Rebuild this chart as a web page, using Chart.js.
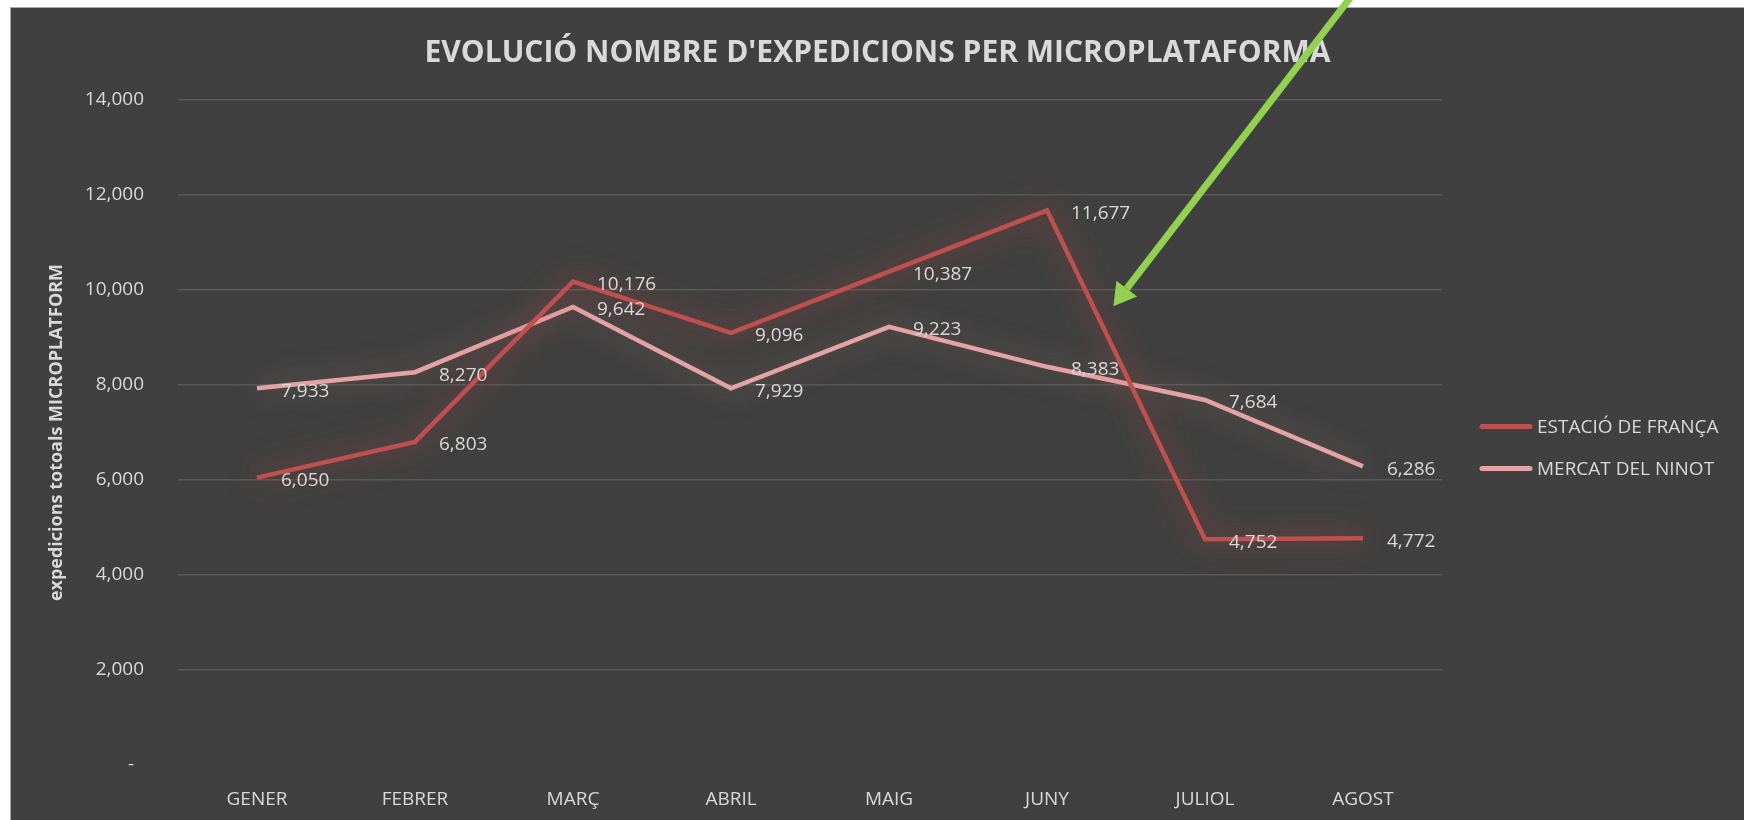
<!DOCTYPE html>
<html>
<head>
<meta charset="utf-8">
<script src="https://cdn.jsdelivr.net/npm/chart.js@4.4.1/dist/chart.umd.min.js"></script>
<style>
    body { margin: 0; background: #ffffff; }
    canvas { display: block; }
</style>
</head>
<body>
<canvas id="grafico-expediciones" width="1744" height="820"></canvas>
<script>
var meses = ['GENER', 'FEBRER', 'MARÇ', 'ABRIL', 'MAIG', 'JUNY', 'JULIOL', 'AGOST'];
var nombres = ['ESTACIÓ DE FRANÇA', 'MERCAT DEL NINOT'];
var estacioFranca = [6050, 6803, 10176, 9096, 10387, 11677, 4752, 4772];
var mercatNinot = [7933, 8270, 9642, 7929, 9223, 8383, 7684, 6286];
var ejeY = { min: 0, max: 14000, paso: 2000 };
// punta de la flecha verde (en unidades de los ejes)
var flecha = { mes: 5.42, valor: 9660 };

var colores = ['#c0504d', '#e6a3a3'];
var brillos = ['rgba(210, 70, 70, 0.75)', 'rgba(225, 150, 150, 0.4)'];
var gris = '#d9d9d9';

var fondo = {
    id: 'fondo',
    beforeDraw: function (chart) {
        var ctx = chart.ctx;
        ctx.save();
        ctx.fillStyle = '#ffffff';
        ctx.fillRect(0, 0, chart.width, chart.height);
        ctx.fillStyle = '#a9a9a9';
        ctx.fillRect(10, 7, chart.width, chart.height);
        ctx.fillStyle = '#404040';
        ctx.fillRect(11, 8, chart.width, chart.height);
        ctx.restore();
    }
};

var brillo = {
    id: 'brillo',
    beforeDatasetDraw: function (chart, args) {
        var ctx = chart.ctx;
        ctx.save();
        ctx.shadowColor = brillos[args.index];
        ctx.shadowBlur = 30;
    },
    afterDatasetDraw: function (chart) {
        chart.ctx.restore();
    }
};

var etiquetas = {
    id: 'etiquetas',
    afterDatasetsDraw: function (chart) {
        var ctx = chart.ctx;
        ctx.save();
        ctx.font = '19px "Open Sans"';
        ctx.fillStyle = gris;
        ctx.textAlign = 'left';
        ctx.textBaseline = 'middle';
        chart.data.datasets.forEach(function (ds, i) {
            chart.getDatasetMeta(i).data.forEach(function (pt, j) {
                ctx.fillText(ds.data[j].toLocaleString('en-US'), pt.x + 24, pt.y + 3);
            });
        });
        ctx.restore();
    }
};

var leyenda = {
    id: 'leyenda',
    afterDraw: function (chart) {
        var a = chart.chartArea, ctx = chart.ctx;
        var x0 = a.right + 38;
        var yc = (a.top + a.bottom) / 2 + 15;
        ctx.save();
        ctx.font = '19px "Open Sans"';
        ctx.textBaseline = 'middle';
        ctx.textAlign = 'left';
        chart.data.datasets.forEach(function (ds, i) {
            var y = yc + (i - 0.5) * 42;
            ctx.strokeStyle = ds.borderColor;
            ctx.lineWidth = 5;
            ctx.lineCap = 'round';
            ctx.beginPath();
            ctx.moveTo(x0 + 2, y);
            ctx.lineTo(x0 + 50, y);
            ctx.stroke();
            ctx.fillStyle = gris;
            ctx.fillText(ds.label, x0 + 57, y + 1);
        });
        ctx.restore();
    }
};

var flechaVerde = {
    id: 'flechaVerde',
    afterDraw: function (chart) {
        var ctx = chart.ctx;
        var tx = chart.scales.x.getPixelForValue(flecha.mes);
        var ty = chart.scales.y.getPixelForValue(flecha.valor);
        var ux = 0.609, uy = -0.793;
        var bx = tx + ux * 22, by = ty + uy * 22;
        ctx.save();
        ctx.strokeStyle = '#92d050';
        ctx.fillStyle = '#92d050';
        ctx.lineWidth = 7;
        ctx.beginPath();
        ctx.moveTo(bx, by);
        ctx.lineTo(tx + ux * 450, ty + uy * 450);
        ctx.stroke();
        ctx.beginPath();
        ctx.moveTo(tx, ty);
        ctx.lineTo(bx - uy * 13, by + ux * 13);
        ctx.lineTo(bx + uy * 13, by - ux * 13);
        ctx.closePath();
        ctx.fill();
        ctx.restore();
    }
};

const ctx = document.getElementById('grafico-expediciones');
var myChart = new Chart(ctx, {
    type: 'line',
    data: {
        labels: meses,
        datasets: [{
            label: nombres[0],
            data: estacioFranca,
            borderColor: colores[0],
            backgroundColor: colores[0],
            borderWidth: 4.5,
            pointRadius: 0,
            tension: 0
        }, {
            label: nombres[1],
            data: mercatNinot,
            borderColor: colores[1],
            backgroundColor: colores[1],
            borderWidth: 4.5,
            pointRadius: 0,
            tension: 0
        }]
    },
    options: {
        responsive: false,
        animation: false,
        layout: { padding: { left: 11, right: 0, top: 8, bottom: 0 } },
        plugins: {
            legend: { display: false },
            tooltip: { enabled: false },
            title: {
                display: true,
                text: "EVOLUCIÓ NOMBRE D'EXPEDICIONS PER MICROPLATAFORMA",
                color: gris,
                font: { family: 'Open Sans', size: 30, weight: 'bold' },
                padding: { top: 27, bottom: 29 }
            }
        },
        scales: {
            x: {
                offset: true,
                grid: { display: false },
                border: { display: false },
                ticks: {
                    color: gris,
                    font: { family: 'Open Sans', size: 19 },
                    padding: 15,
                    maxRotation: 0
                },
                afterFit: function (s) { s.height = 55; }
            },
            y: {
                min: ejeY.min,
                max: ejeY.max,
                border: { display: false },
                grid: {
                    drawTicks: false,
                    lineWidth: 1.5,
                    color: function (c) { return c.tick && c.tick.value === 0 ? 'rgba(0,0,0,0)' : '#585858'; }
                },
                ticks: {
                    stepSize: ejeY.paso,
                    color: gris,
                    font: { family: 'Open Sans', size: 19 },
                    padding: 34,
                    callback: function (v) { return v === 0 ? '-  ' : v.toLocaleString('en-US'); }
                },
                title: {
                    display: true,
                    text: 'expedicions totoals MICROPLATFORM',
                    color: gris,
                    font: { family: 'Open Sans', size: 18, weight: 'bold' },
                    padding: { top: 35, bottom: 0 }
                },
                afterFit: function (s) { s.width = 167; }
            },
            espacio: {
                type: 'linear',
                position: 'right',
                grid: { display: false },
                border: { display: false },
                ticks: { display: false },
                afterFit: function (s) { s.width = 302; }
            }
        }
    },
    plugins: [fondo, brillo, etiquetas, leyenda, flechaVerde]
});
</script>
</body>
</html>
